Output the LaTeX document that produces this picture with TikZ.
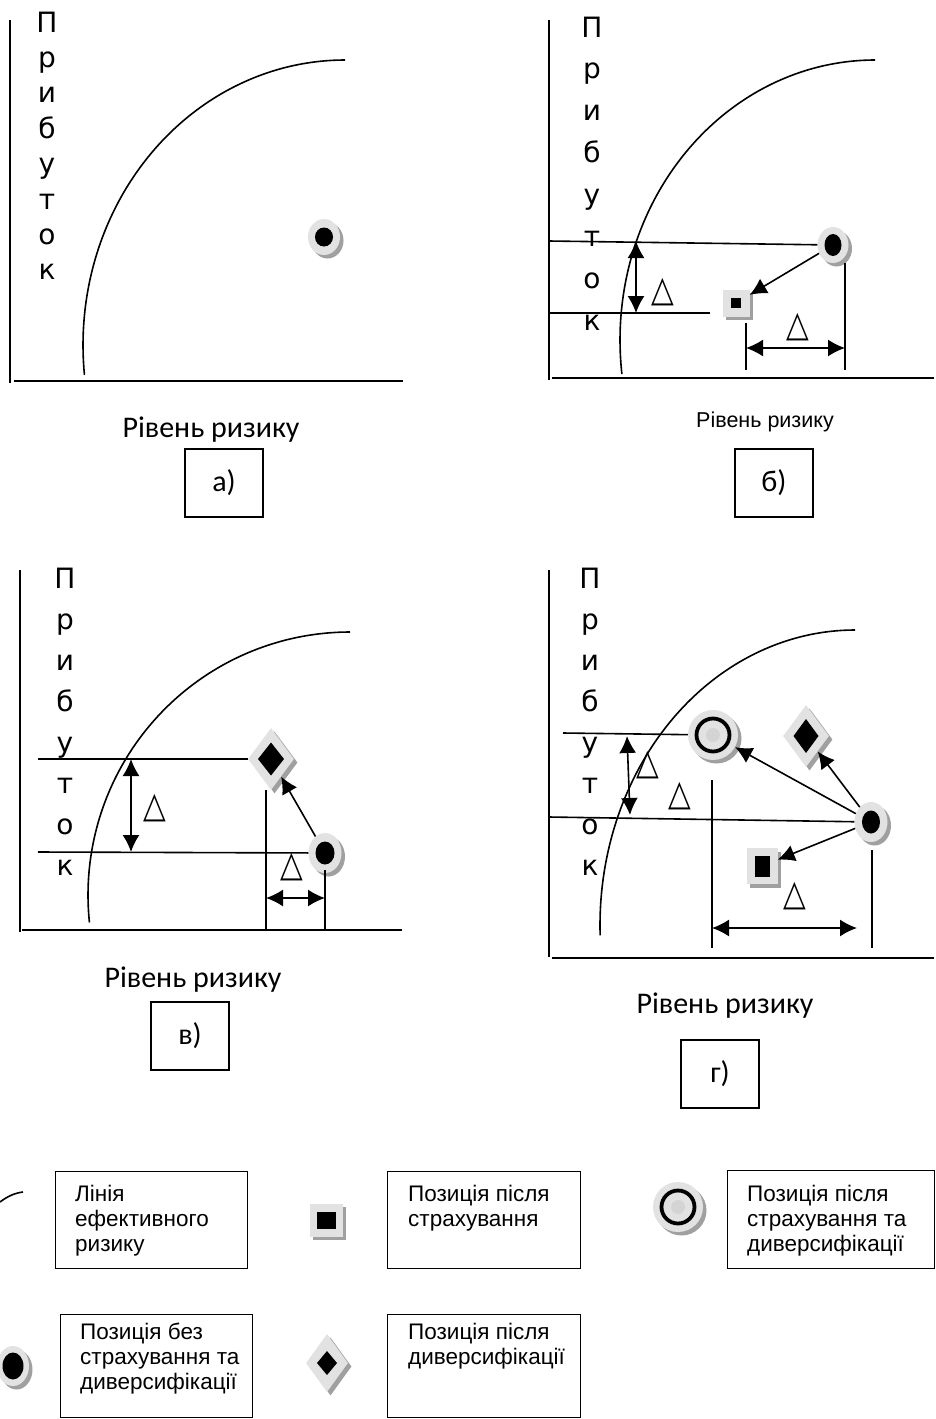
\documentclass[tikz,border=0pt]{standalone}
\usepackage{fontspec}
\setmainfont{Carlito}
\newfontfamily\dejavu{DejaVu Sans}
\newfontfamily\arialf{Liberation Sans}
\usetikzlibrary{arrows.meta,shapes.geometric,shadows,calc}
\definecolor{ringgray}{HTML}{E2E2E2}
\definecolor{shadegray}{HTML}{A0A0A0}
\definecolor{innergray}{HTML}{D4D4D4}

\begin{document}
\begin{tikzpicture}[x=1pt,y=-1pt,
  ln/.style={line width=1.6pt},
  axisln/.style={line width=1.8pt},
  dbl/.style={line width=1.6pt,{Latex[length=17pt,width=17pt]}-{Latex[length=17pt,width=17pt]}},
  arr/.style={line width=1.6pt,-{Latex[length=17pt,width=17pt]}},
  possh/.style={drop shadow={shadow xshift=3.5pt,shadow yshift=-3.5pt,fill=shadegray,opacity=1}},
  nopos/.style n args={4}{ellipse,fill=ringgray,inner sep=0pt,minimum width=#1,minimum height=#2,possh,
     path picture={\fill[black] (path picture bounding box.center) ellipse [x radius=#3pt,y radius=#4pt];}},
  sqpos/.style n args={4}{rectangle,fill=ringgray,inner sep=0pt,minimum width=#1,minimum height=#2,possh,
     path picture={\fill[black] (path picture bounding box.center) +(-#3pt,-#4pt) rectangle +(#3pt,#4pt);}},
  dmpos/.style n args={4}{diamond,fill=ringgray,inner sep=0pt,minimum width=#1,minimum height=#2,possh,
     path picture={\fill[black] (path picture bounding box.center) +(-#3pt,0pt) -- +(0pt,#4pt) -- +(#3pt,0pt) -- +(0pt,-#4pt) -- cycle;}},
  dcpos/.style={circle,fill=ringgray,inner sep=0pt,minimum size=#1,possh,
     path picture={\draw[black,line width=3.8pt] (path picture bounding box.center) circle [radius=16.5pt];
                   \fill[innergray] (path picture bounding box.center) circle [radius=7pt];}},
  vlet/.style={font=\dejavu\fontsize{28}{28}\selectfont,inner sep=0pt,anchor=base},
  delta/.style={font=\dejavu\fontsize{36}{36}\selectfont,inner sep=0pt},
  xlbl/.style={font=\fontsize{30}{30}\selectfont,inner sep=0pt},
  xlbls/.style={font=\arialf\fontsize{21.5}{21.5}\selectfont,inner sep=0pt},
  tagbox/.style={draw,line width=1.2pt,minimum width=78pt,minimum height=68pt,inner sep=0pt,font=\fontsize{30}{30}\selectfont},
  legbox/.style={draw,line width=1.4pt,inner sep=0pt,anchor=north west},
  legtxt/.style={font=\arialf\fontsize{22.5}{25}\selectfont,align=left,inner sep=0pt,anchor=north west}
]
\useasboundingbox (0,0) rectangle (936,1419);
\newcommand{\tri}{\scalebox{0.82}[1.0]{△}}

% ---------- panel а) ----------
\draw[axisln] (10,20) -- (10,383);
\draw[axisln] (14,381) -- (403,381);
\foreach \ch [count=\i from 0] in {П,р,и,б,у,т,о,к}
  \node[vlet] (a-l\i) at (47,{32+35.4*\i}) {\ch};
\draw[ln] plot[domain=174:270,samples=90] ({345+262*cos(\x)},{345+285*sin(\x)});
\node[nopos={32pt}{36pt}{9}{9.5}] (a-np) at (324,237) {};
\node[xlbl] (a-x) at (211,430) {Рівень ризику};
\node[tagbox] (a-tag) at (224,483) {а)};

% ---------- panel б) ----------
\draw[axisln] (549,20) -- (549,380);
\draw[axisln] (552,378) -- (934,378);
\foreach \ch [count=\i from 0] in {П,р,и,б,у,т,о,к}
  \node[vlet] (b-l\i) at (592,{37+41.9*\i}) {\ch};
\draw[ln] plot[domain=173:270,samples=90] ({875+255*cos(\x)},{340+280*sin(\x)});
\node[nopos={31pt}{36pt}{8.5}{11}] (b-np) at (833,245) {};
\node[sqpos={27pt}{27pt}{5}{5}] (b-sq) at (736,303) {};
\coordinate (b-h1) at (549,241);
\coordinate (b-h2a) at (549,313);
\coordinate (b-h2b) at (710,313);
\draw[ln] (b-h1) -- (b-np);
\draw[ln] (b-h2a) -- (b-h2b);
\coordinate (b-v1) at (636,241);
\coordinate (b-v2) at (636,313);
\draw[dbl] (b-v1) -- (b-v2);
\node[delta] (b-d1) at (663,292) {\tri};
\draw[arr] (b-np) -- (b-sq);
\coordinate (b-s1) at (746,323);
\coordinate (b-s2) at (746,370);
\coordinate (b-n1) at (845,263);
\coordinate (b-n2) at (845,370);
\draw[ln] (b-s1) -- (b-s2);
\draw[ln] (b-n1) -- (b-n2);
\coordinate (b-hx1) at (746,348);
\coordinate (b-hx2) at (845,348);
\draw[dbl] (b-hx1) -- (b-hx2);
\node[delta] (b-d2) at (798,327) {\tri};
\node[xlbls] (b-x) at (765,422) {Рівень ризику};
\node[tagbox] (b-tag) at (774,483) {б)};

% ---------- panel в) ----------
\draw[axisln] (20,570) -- (20,932);
\draw[axisln] (22,930) -- (402,930);
\foreach \ch [count=\i from 0] in {П,р,и,б,у,т,о,к}
  \node[vlet] (c-l\i) at (65,{588+41*\i}) {\ch};
\draw[ln] plot[domain=174:270,samples=90] ({350+262*cos(\x)},{895+263*sin(\x)});
\node[dmpos={46pt}{62pt}{13}{16.5}] (c-dm) at (271,759) {};
\node[nopos={33pt}{40pt}{9.5}{11.5}] (c-np) at (325,853) {};
\coordinate (c-h1) at (38,759);
\coordinate (c-h2) at (38,852);
\draw[ln] (c-h1) -- (c-dm);
\draw[ln] (c-h2) -- (c-np);
\coordinate (c-v1) at (131,759);
\coordinate (c-v2) at (131,852);
\draw[dbl] (c-v1) -- (c-v2);
\node[delta] (c-d1) at (155,808) {\tri};
\draw[arr] (c-np) -- (c-dm);
\coordinate (c-s1) at (266,790);
\coordinate (c-s2) at (266,930);
\coordinate (c-n1) at (325,870);
\coordinate (c-n2) at (325,930);
\draw[ln] (c-s1) -- (c-s2);
\draw[ln] (c-n1) -- (c-n2);
\coordinate (c-hx1) at (266,898);
\coordinate (c-hx2) at (325,898);
\draw[dbl] (c-hx1) -- (c-hx2);
\node[delta] (c-d2) at (292,867) {\tri};
\node[xlbl] (c-x) at (193,980) {Рівень ризику};
\node[tagbox] (c-tag) at (190,1036) {в)};

% ---------- panel г) ----------
\draw[axisln] (549,570) -- (549,957);
\draw[axisln] (552,958) -- (934,958);
\foreach \ch [count=\i from 0] in {П,р,и,б,у,т,о,к}
  \node[vlet] (d-l\i) at (590,{588+41*\i}) {\ch};
\draw[ln] plot[domain=178:270,samples=90] ({855+255*cos(\x)},{925+295*sin(\x)});
\node[dcpos=50pt] (d-dc) at (713,735) {};
\node[dmpos={46pt}{62pt}{12.5}{17}] (d-dm) at (806,736) {};
\node[nopos={33pt}{40pt}{9}{11.5}] (d-np) at (871,822) {};
\node[sqpos={31pt}{36pt}{7.5}{10.5}] (d-sq) at (762,866) {};
\coordinate (d-h1) at (563,733);
\coordinate (d-h2) at (549,817);
\draw[ln] (d-h1) -- (d-dc);
\draw[ln] (d-h2) -- (d-np);
\coordinate (d-v1) at (627,736);
\coordinate (d-v2) at (630,815);
\draw[dbl] (d-v1) -- (d-v2);
\node[delta] (d-d1) at (648,765) {\tri};
\node[delta] (d-d2) at (680,796) {\tri};
\draw[arr] (d-np) -- (d-dc);
\draw[arr] (d-np) -- (d-dm);
\draw[arr] (d-np) -- (d-sq);
\coordinate (d-s1) at (712,780);
\coordinate (d-s2) at (712,948);
\coordinate (d-n1) at (872,850);
\coordinate (d-n2) at (872,948);
\draw[ln] (d-s1) -- (d-s2);
\draw[ln] (d-n1) -- (d-n2);
\coordinate (d-hx1) at (712,928);
\coordinate (d-hx2) at (857,928);
\draw[dbl] (d-hx1) -- (d-hx2);
\node[delta] (d-d3) at (795,896) {\tri};
\node[xlbl] (d-x) at (725,1006) {Рівень ризику};
\node[tagbox] (d-tag) at (720,1074) {г)};

% ---------- legend ----------
\draw[ln] (0,1202) .. controls (8,1196) and (15,1193) .. (23,1192);
\node[legbox,minimum width=192pt,minimum height=97pt] (k1) at (55,1171) {};
\node[legtxt] (k1t) at (75,1185) {Лінія\\ефективного\\ризику};
\node[sqpos={33pt}{33pt}{9.5}{8.5}] (k2s) at (326,1220) {};
\node[legbox,minimum width=193pt,minimum height=97pt] (k2) at (387,1171) {};
\node[legtxt] (k2t) at (408,1185) {Позиція після\\страхування};
\node[dcpos=50pt] (k3s) at (678,1207) {};
\node[legbox,minimum width=207pt,minimum height=98pt] (k3) at (727,1170) {};
\node[legtxt] (k3t) at (747,1185) {Позиція після\\страхування та\\диверсифікації};
\node[nopos={32pt}{40pt}{10.5}{13.5}] (k4s) at (13,1366) {};
\node[legbox,minimum width=192pt,minimum height=103pt] (k4) at (60,1314) {};
\node[legtxt] (k4t) at (80,1323) {Позиція без\\страхування та\\диверсифікації};
\node[dmpos={42pt}{58pt}{10}{12}] (k5s) at (327,1363) {};
\node[legbox,minimum width=193pt,minimum height=103pt] (k5) at (387,1314) {};
\node[legtxt] (k5t) at (408,1323) {Позиція після\\диверсифікації};
\end{tikzpicture}
\end{document}
